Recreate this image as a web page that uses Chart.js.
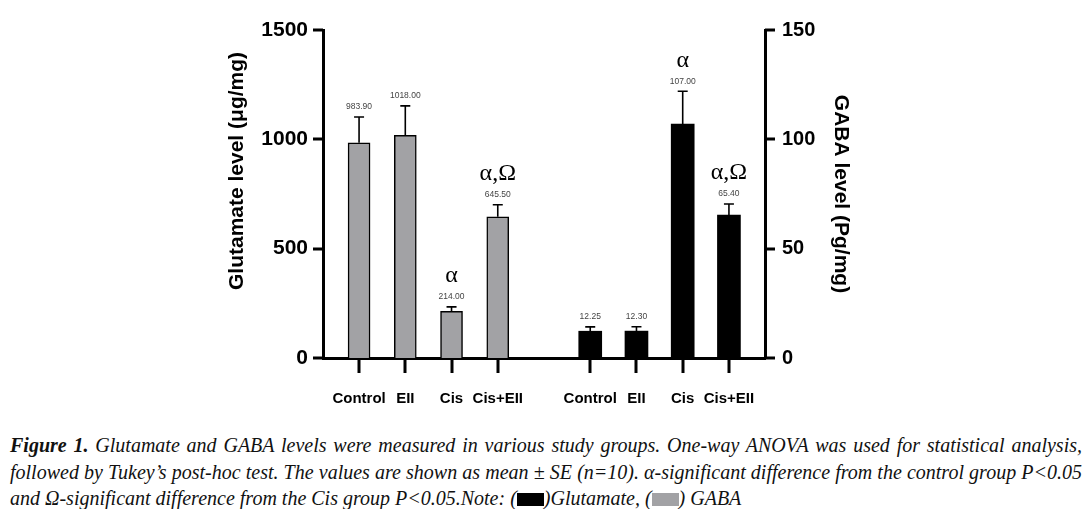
<!DOCTYPE html>
<html>
<head>
<meta charset="utf-8">
<script src="https://cdn.jsdelivr.net/npm/chart.js@4"></script>
<style>
  body { margin: 0; background: #fff; }
  #wrap { position: absolute; left: 0; top: 0; width: 1087px; height: 420px; }
  #caption {
    position: absolute; left: 10px; top: 432px; width: 1072px;
    font-family: "Liberation Serif", "DejaVu Serif", serif; font-style: italic;
    font-size: 20px; line-height: 26.5px; color: #111;
  }
  #caption .ln { text-align: justify; text-align-last: justify; white-space: nowrap; }
  #caption .last { text-align-last: left; }
  .box { display: inline-block; width: 27px; height: 13px; vertical-align: -1px; }
</style>
</head>
<body>
<div id="wrap"><canvas id="grafico" width="1087" height="420"></canvas></div>
<div id="caption">
  <div class="ln"><b>Figure 1.</b> Glutamate and GABA levels were measured in various study groups. One-way ANOVA was used for statistical analysis,</div>
  <div class="ln">followed by Tukey’s post-hoc test. The values are shown as mean ± SE (n=10). α-significant difference from the control group P&lt;0.05</div>
  <div class="ln last">and Ω-significant difference from the Cis group P&lt;0.05.Note: (<span class="box" style="background:#000"></span>)Glutamate, (<span class="box" style="background:#a2a2a5"></span>) GABA</div>
</div>
<script>
// datos
const grupos = ['Control', 'EII', 'Cis', 'Cis+EII'];
const glutamato = [983.90, 1018.00, 214.00, 645.50];   // eje izquierdo (barras grises)
const glutamatoSE = [118, 135, 20, 55];
const gaba = [12.25, 12.30, 107.00, 65.40];            // eje derecho (barras negras)
const gabaSE = [2, 2, 15, 5];
const sigGlutamato = ['', '', 'α', 'α,Ω'];
const sigGaba = ['', '', 'α', 'α,Ω'];
const ticksIzq = [0, 500, 1000, 1500];
const ticksDer = [0, 50, 100, 150];

// posiciones en el eje x: 4 grupos, un hueco, 4 grupos
const posGlut = grupos.map((g, i) => i);
const posGaba = grupos.map((g, i) => i + 5);
const posTodas = posGlut.concat(posGaba);
const etiquetasX = grupos.concat(grupos);

// marcas de los ejes, barras de error, valores, letras y títulos
const extras = {
  id: 'extras',
  afterDraw(chart) {
    const ctx = chart.ctx;
    const { x, y, y1 } = chart.scales;

    // marcas de graduación (gruesas, hacia fuera)
    ctx.save();
    ctx.fillStyle = '#000';
    posTodas.forEach(v => {
      const px = Math.round(x.getPixelForValue(v));
      ctx.fillRect(px - 1.5, y.bottom, 3, 15);
    });
    ticksIzq.forEach(v => {
      const py = Math.round(y.getPixelForValue(v));
      ctx.fillRect(y.right - 10, py - 1.5, 10, 3);
    });
    ticksDer.forEach(v => {
      const py = Math.round(y1.getPixelForValue(v));
      ctx.fillRect(y1.left, py - 1.5, 10, 3);
    });
    ctx.restore();

    const info = [
      { se: glutamatoSE, vals: glutamato, sig: sigGlutamato, eje: 'y' },
      { se: gabaSE, vals: gaba, sig: sigGaba, eje: 'y1' }
    ];
    info.forEach((d, di) => {
      const meta = chart.getDatasetMeta(di);
      const escala = chart.scales[d.eje];
      meta.data.forEach((bar, i) => {
        const yTop = escala.getPixelForValue(d.vals[i] + d.se[i]);
        ctx.save();
        ctx.strokeStyle = '#000';
        ctx.lineWidth = 1.6;
        ctx.beginPath();
        ctx.moveTo(bar.x, bar.y);
        ctx.lineTo(bar.x, yTop);
        ctx.moveTo(bar.x - 5, yTop);
        ctx.lineTo(bar.x + 5, yTop);
        ctx.stroke();
        ctx.fillStyle = '#444';
        ctx.font = '8.5px "Liberation Sans", Arial';
        ctx.textAlign = 'center';
        ctx.textBaseline = 'middle';
        ctx.fillText(d.vals[i].toFixed(2), bar.x, yTop - 10);
        if (d.sig[i]) {
          ctx.fillStyle = '#000';
          ctx.font = '24px "Liberation Serif", "Times New Roman", serif';
          ctx.fillText(d.sig[i], bar.x, yTop - 31);
        }
        ctx.restore();
      });
    });

    ctx.save();
    ctx.fillStyle = '#000';
    ctx.font = 'bold 21px "Liberation Sans", Arial';
    ctx.textAlign = 'center';
    ctx.textBaseline = 'middle';
    ctx.translate(237, 171);
    ctx.rotate(-Math.PI / 2);
    ctx.fillText('Glutamate level (μg/mg)', 0, 0);
    ctx.restore();
    ctx.save();
    ctx.fillStyle = '#000';
    ctx.font = 'bold 21px "Liberation Sans", Arial';
    ctx.textAlign = 'center';
    ctx.textBaseline = 'middle';
    ctx.translate(841, 194);
    ctx.rotate(Math.PI / 2);
    ctx.fillText('GABA level (Pg/mg)', 0, 0);
    ctx.restore();
  }
};

const ctx = document.getElementById('grafico').getContext('2d');
new Chart(ctx, {
  type: 'bar',
  data: {
    datasets: [
      {
        label: 'Glutamate',
        data: glutamato.map((v, i) => ({ x: posGlut[i], y: v })),
        backgroundColor: '#a2a2a5',
        borderColor: '#000',
        borderWidth: 1.5,
        barThickness: 22,
        yAxisID: 'y'
      },
      {
        label: 'GABA',
        data: gaba.map((v, i) => ({ x: posGaba[i], y: v })),
        backgroundColor: '#000',
        borderColor: '#000',
        borderWidth: 0,
        barThickness: 23,
        yAxisID: 'y1'
      }
    ]
  },
  options: {
    responsive: false,
    animation: false,
    grouped: false,
    layout: { padding: { top: 30, left: 0, right: 0, bottom: 0 } },
    plugins: { legend: { display: false }, tooltip: { enabled: false } },
    scales: {
      x: {
        type: 'linear',
        min: -0.78,
        max: 8.78,
        offset: false,
        afterBuildTicks: s => { s.ticks = posTodas.map(v => ({ value: v })); },
        afterFit: s => { s.height = 62; },
        ticks: {
          autoSkip: false,
          maxRotation: 0,
          padding: 32,
          color: '#000',
          font: { family: '"Liberation Sans", Arial', size: 15, weight: 'bold' },
          callback: (v, i) => etiquetasX[i]
        },
        grid: { display: false, drawTicks: false },
        border: { display: true, color: '#000', width: 3 }
      },
      y: {
        position: 'left',
        min: 0,
        max: 1500,
        afterBuildTicks: s => { s.ticks = ticksIzq.map(v => ({ value: v })); },
        afterFit: s => { s.width = 323; },
        ticks: {
          padding: 15,
          color: '#000',
          font: { family: '"Liberation Sans", Arial', size: 21, weight: 'bold' },
          callback: v => String(v)
        },
        grid: { display: false, drawTicks: false },
        border: { display: true, color: '#000', width: 3 }
      },
      y1: {
        position: 'right',
        min: 0,
        max: 150,
        afterBuildTicks: s => { s.ticks = ticksDer.map(v => ({ value: v })); },
        afterFit: s => { s.width = 322; },
        ticks: {
          padding: 17,
          color: '#000',
          font: { family: '"Liberation Sans", Arial', size: 20, weight: 'bold' },
          callback: v => String(v)
        },
        grid: { display: false, drawTicks: false },
        border: { display: true, color: '#000', width: 3 }
      }
    }
  },
  plugins: [extras]
});
</script>
</body>
</html>
